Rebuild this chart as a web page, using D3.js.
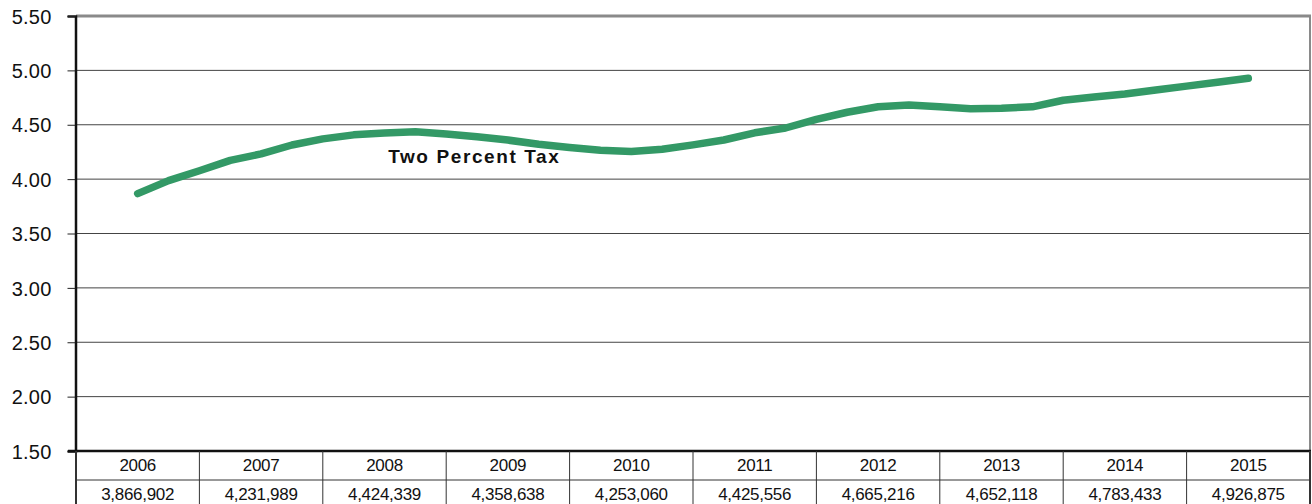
<!DOCTYPE html>
<html>
<head>
<meta charset="utf-8">
<script src="https://cdn.jsdelivr.net/npm/d3@7"></script>
<style>
  html, body { margin: 0; padding: 0; background: #fff; }
  svg { display: block; font-family: "Liberation Sans", Arial, sans-serif; }
</style>
</head>
<body>
<svg id="chart" width="1312" height="504"></svg>
<script>
// Years shown in the data table under the plot
const years = [2006, 2007, 2008, 2009, 2010, 2011, 2012, 2013, 2014, 2015];
// Annual totals shown in the table row
const annualTotals = [3866902, 4231989, 4424339, 4358638, 4253060, 4425556, 4665216, 4652118, 4783433, 4926875];
// Quarterly series (millions), from 2006 through 2015
const quarterlyValues = [
  3.867, 3.986, 4.077, 4.172,
  4.232, 4.314, 4.370, 4.407,
  4.424, 4.435, 4.415, 4.390,
  4.359, 4.320, 4.290, 4.265,
  4.253, 4.275, 4.315, 4.360,
  4.426, 4.470, 4.550, 4.615,
  4.665, 4.682, 4.666, 4.648,
  4.652, 4.665, 4.725, 4.755,
  4.783, 4.820, 4.855, 4.890,
  4.927
];
const yTicks = [1.5, 2.0, 2.5, 3.0, 3.5, 4.0, 4.5, 5.0, 5.5];
const seriesLabel = "Two Percent Tax";

const svg = d3.select("#chart");
const plotLeft = 76, plotRight = 1310, plotTop = 16, plotBottom = 451;

const x = d3.scaleLinear().domain([years[0] - 0.5, years[years.length - 1] + 0.5]).range([plotLeft, plotRight]);
const y = d3.scaleLinear().domain([1.5, 5.5]).range([plotBottom, plotTop]);

// horizontal gridlines
svg.append("g").selectAll("line")
  .data(yTicks.filter(t => t > 1.5 && t < 5.5))
  .join("line")
  .attr("x1", plotLeft).attr("x2", plotRight)
  .attr("y1", d => y(d)).attr("y2", d => y(d))
  .attr("stroke", "#444").attr("stroke-width", 1);

// plot frame: gray top and right edges
svg.append("line").attr("x1", plotLeft).attr("x2", plotRight + 1).attr("y1", y(5.5)).attr("y2", y(5.5))
  .attr("stroke", "#8a8a8a").attr("stroke-width", 3);
svg.append("line").attr("x1", plotRight).attr("x2", plotRight).attr("y1", y(5.5)).attr("y2", plotBottom)
  .attr("stroke", "#8a8a8a").attr("stroke-width", 2);

// y axis
const yAxis = d3.axisLeft(y).tickValues(yTicks).tickFormat(d3.format(".2f")).tickSize(8).tickPadding(16);
const gy = svg.append("g").attr("transform", `translate(${plotLeft - 0.5},0)`).call(yAxis);
gy.select(".domain").attr("stroke", "#111").attr("stroke-width", 2.5);
gy.selectAll(".tick line").attr("stroke", "#222").attr("stroke-width", 1);
gy.selectAll(".tick text")
  .attr("fill", "#111").style("font-size", "20px").style("letter-spacing", "0.2px")
  .attr("dy", "0.36em");

// data table under the plot
const tableTop = plotBottom, rowSplit = 480, tableBottom = 520;
const table = svg.append("g");
table.append("line").attr("x1", plotLeft - 8).attr("x2", plotRight + 1).attr("y1", tableTop).attr("y2", tableTop)
  .attr("stroke", "#111").attr("stroke-width", 2.5);
table.append("line").attr("x1", plotLeft).attr("x2", plotRight).attr("y1", rowSplit).attr("y2", rowSplit)
  .attr("stroke", "#333").attr("stroke-width", 1);
const edges = years.map(yr => x(yr - 0.5)).concat([x(years[years.length - 1] + 0.5)]);
table.selectAll("line.col").data(edges).join("line").attr("class", "col")
  .attr("x1", d => d).attr("x2", d => d)
  .attr("y1", tableTop).attr("y2", tableBottom)
  .attr("stroke", "#333").attr("stroke-width", (d, i) => (i === 0 || i === edges.length - 1) ? 2 : 1);
table.selectAll("text.yr").data(years).join("text").attr("class", "yr")
  .attr("x", d => x(d)).attr("y", 465).attr("dy", "0.36em")
  .attr("text-anchor", "middle").attr("fill", "#111").style("font-size", "17px").style("letter-spacing", "-0.3px")
  .text(d => d);
table.selectAll("text.val").data(annualTotals).join("text").attr("class", "val")
  .attr("x", (d, i) => x(years[i])).attr("y", 494).attr("dy", "0.36em")
  .attr("text-anchor", "middle").attr("fill", "#111").style("font-size", "17px").style("letter-spacing", "-0.3px")
  .text(d => d3.format(",")(d));

// series line
const pts = quarterlyValues.map((v, i) => ({ t: years[0] + i / 4, v }));
const line = d3.line().x(d => x(d.t)).y(d => y(d.v));
svg.append("path").datum(pts)
  .attr("d", line)
  .attr("fill", "none")
  .attr("stroke", "#339966")
  .attr("stroke-width", 7.5)
  .attr("stroke-linecap", "round")
  .attr("stroke-linejoin", "round");

// series label
svg.append("text").attr("x", x(2008.03)).attr("y", 163)
  .attr("fill", "#111").style("font-size", "19px").style("font-weight", "bold").style("letter-spacing", "1.6px")
  .text(seriesLabel);
</script>
</body>
</html>
